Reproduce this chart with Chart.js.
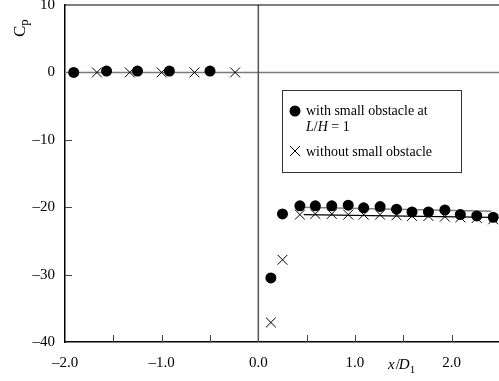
<!DOCTYPE html>
<html>
<head>
<meta charset="utf-8">
<script src="https://cdn.jsdelivr.net/npm/chart.js@4.4.1/dist/chart.umd.min.js"></script>
<style>
  html, body { margin: 0; padding: 0; background: #fff; }
  #wrap { width: 499px; height: 381px; }
</style>
</head>
<body>
<div id="wrap"><canvas id="cp-chart" width="499" height="381"></canvas></div>
<script>
// x/D1 positions and Cp values
const withX = [-1.91, -1.57, -1.25, -0.92, -0.50, 0.13, 0.25, 0.43, 0.59, 0.76, 0.93, 1.09, 1.26, 1.43, 1.59, 1.76, 1.93, 2.09, 2.26, 2.43];
const withCp = [0.0, 0.2, 0.2, 0.2, 0.2, -30.5, -21.0, -19.8, -19.8, -19.8, -19.7, -20.1, -19.9, -20.3, -20.7, -20.7, -20.4, -21.1, -21.3, -21.5];

const withoutX = [-1.67, -1.33, -1.00, -0.66, -0.24, 0.13, 0.25, 0.43, 0.59, 0.76, 0.93, 1.09, 1.26, 1.43, 1.59, 1.76, 1.93, 2.09, 2.26, 2.43];
const withoutCp = [0.0, 0.0, 0.0, 0.0, 0.0, -37.1, -27.8, -21.1, -21.0, -21.0, -21.1, -21.1, -21.1, -21.2, -21.3, -21.3, -21.4, -21.5, -21.6, -21.8];

// fitted lines through the downstream points
const fitWithX = [0.43, 2.41];
const fitWithCp = [-20.0, -20.6];
const fitWithoutX = [0.47, 2.41];
const fitWithoutCp = [-21.1, -21.5];

const xTicks = [-2, -1, 0, 1, 2];
const xMinorTicks = [-1.5, -1.0, -0.5, 0.5, 1.0, 1.5, 2.0];
const yTicks = [-30, -20, -10];

const FONT = "'Liberation Serif', 'Times New Roman', serif";

function toPoints(xs, ys) {
  return xs.map(function (x, i) { return { x: x, y: ys[i] }; });
}

function dash(v, digits) {
  var s = Math.abs(v).toFixed(digits);
  return v < 0 ? '\u2013' + s : s;
}

const decorations = {
  id: 'decorations',
  beforeDatasetsDraw(chart) {
    const ctx = chart.ctx;
    const xs = chart.scales.x, ys = chart.scales.y;
    const a = chart.chartArea;
    ctx.save();
    // zero reference lines
    ctx.lineWidth = 1.5;
    ctx.strokeStyle = '#7a7a7a';
    ctx.beginPath();
    ctx.moveTo(a.left, ys.getPixelForValue(0));
    ctx.lineTo(a.right, ys.getPixelForValue(0));
    ctx.stroke();
    ctx.strokeStyle = '#555';
    ctx.beginPath();
    ctx.moveTo(xs.getPixelForValue(0), a.top);
    ctx.lineTo(xs.getPixelForValue(0), a.bottom);
    ctx.stroke();
    ctx.restore();
  },
  afterDatasetsDraw(chart) {
    const ctx = chart.ctx;
    const xs = chart.scales.x, ys = chart.scales.y;
    const a = chart.chartArea;
    ctx.save();
    ctx.strokeStyle = '#000';
    ctx.lineWidth = 1.2;
    // top frame
    ctx.beginPath();
    ctx.moveTo(a.left, a.top);
    ctx.lineTo(a.right, a.top);
    ctx.stroke();
    // inward ticks
    ctx.strokeStyle = '#444';
    ctx.lineWidth = 1;
    xMinorTicks.forEach(function (v) {
      var px = Math.round(xs.getPixelForValue(v)) + 0.5;
      ctx.beginPath();
      ctx.moveTo(px, a.bottom);
      ctx.lineTo(px, a.bottom - 7);
      ctx.stroke();
    });
    yTicks.forEach(function (v) {
      var py = Math.round(ys.getPixelForValue(v)) + 0.5;
      ctx.beginPath();
      ctx.moveTo(a.left, py);
      ctx.lineTo(a.left + 7, py);
      ctx.stroke();
    });

    // y title: C with subscript p, rotated
    ctx.fillStyle = '#000';
    ctx.save();
    ctx.translate(25, 37);
    ctx.rotate(-Math.PI / 2);
    ctx.textBaseline = 'alphabetic';
    ctx.textAlign = 'left';
    ctx.font = '17px ' + FONT;
    ctx.fillText('C', 0, 0);
    var cw = ctx.measureText('C').width;
    ctx.font = '13px ' + FONT;
    ctx.fillText('p', cw, 3);
    ctx.restore();

    // x title: x/D1
    ctx.textBaseline = 'alphabetic';
    ctx.textAlign = 'left';
    var tx = 388, ty = 369;
    ctx.font = 'italic 15px ' + FONT;
    ctx.fillText('x', tx, ty);
    tx += ctx.measureText('x').width + 1;
    ctx.font = '15px ' + FONT;
    ctx.fillText('/', tx, ty);
    tx += ctx.measureText('/').width - 1;
    ctx.font = 'italic 15px ' + FONT;
    ctx.fillText('D', tx, ty);
    tx += ctx.measureText('D').width;
    ctx.font = '11px ' + FONT;
    ctx.fillText('1', tx, ty + 4);

    // legend box
    ctx.strokeStyle = '#333';
    ctx.lineWidth = 1;
    ctx.fillStyle = '#fff';
    ctx.fillRect(282.5, 90.5, 179, 82);
    ctx.strokeRect(282.5, 90.5, 179, 82);
    ctx.fillStyle = '#000';
    ctx.beginPath();
    ctx.arc(295, 111, 5.5, 0, Math.PI * 2);
    ctx.fill();
    ctx.strokeStyle = '#000';
    ctx.beginPath();
    ctx.moveTo(290, 146); ctx.lineTo(300, 156);
    ctx.moveTo(300, 146); ctx.lineTo(290, 156);
    ctx.stroke();
    ctx.textBaseline = 'middle';
    ctx.font = '14px ' + FONT;
    ctx.fillText('with small obstacle at', 306, 111);
    ctx.fillText('without small obstacle', 306, 152);
    var lx = 306, ly = 127;
    ctx.font = 'italic 14px ' + FONT;
    ctx.fillText('L', lx, ly); lx += ctx.measureText('L').width;
    ctx.font = '14px ' + FONT;
    ctx.fillText('/', lx, ly); lx += ctx.measureText('/').width;
    ctx.font = 'italic 14px ' + FONT;
    ctx.fillText('H', lx, ly); lx += ctx.measureText('H').width;
    ctx.font = '14px ' + FONT;
    ctx.fillText(' = 1', lx, ly);
    ctx.restore();
  }
};

const ctx = document.getElementById('cp-chart');
const cpChart = new Chart(ctx, {
  type: 'scatter',
  data: {
    datasets: [
      {
        label: 'fit with obstacle',
        data: toPoints(fitWithX, fitWithCp),
        showLine: true,
        borderColor: '#808080',
        borderWidth: 1.5,
        pointRadius: 0,
        order: 3
      },
      {
        label: 'fit without obstacle',
        data: toPoints(fitWithoutX, fitWithoutCp),
        showLine: true,
        borderColor: '#000',
        borderWidth: 1.2,
        pointRadius: 0,
        order: 3
      },
      {
        label: 'without small obstacle',
        data: toPoints(withoutX, withoutCp),
        pointStyle: 'crossRot',
        pointRadius: 7,
        borderColor: '#000',
        borderWidth: 1,
        backgroundColor: '#000',
        order: 2
      },
      {
        label: 'with small obstacle at L/H = 1',
        data: toPoints(withX, withCp),
        pointStyle: 'circle',
        pointRadius: 5.5,
        borderWidth: 0,
        backgroundColor: '#000',
        order: 1
      }
    ]
  },
  options: {
    responsive: false,
    animation: false,
    layout: { autoPadding: false, padding: { top: 5, right: 0, left: 0, bottom: 0 } },
    plugins: {
      legend: { display: false },
      tooltip: { enabled: false }
    },
    scales: {
      x: {
        type: 'linear',
        min: -2,
        max: 2.49,
        afterFit: function (s) {
          s.height = 39;
          s.paddingLeft = 0;
          s.paddingRight = 0;
        },
        border: { display: true, color: '#000', width: 1.5 },
        grid: { display: true, drawOnChartArea: false, drawTicks: false },
        ticks: {
          stepSize: 1,
          includeBounds: false,
          padding: 12,
          maxRotation: 0,
          autoSkip: false,
          color: '#000',
          font: { family: FONT, size: 15 },
          callback: function (v) {
            if (Math.abs(v - Math.round(v)) > 1e-6) return '';
            return xTicks.indexOf(Math.round(v)) >= 0 ? dash(v, 1) : '';
          }
        }
      },
      y: {
        type: 'linear',
        min: -40,
        max: 10,
        afterFit: function (s) {
          s.width = 65;
          s.paddingTop = 0;
          s.paddingBottom = 0;
        },
        border: { display: true, color: '#000', width: 1.5 },
        grid: { display: true, drawOnChartArea: false, drawTicks: false },
        ticks: {
          stepSize: 10,
          padding: 10,
          color: '#000',
          font: { family: FONT, size: 15 },
          callback: function (v) { return dash(v, 0); }
        }
      }
    }
  },
  plugins: [decorations]
});
</script>
</body>
</html>
